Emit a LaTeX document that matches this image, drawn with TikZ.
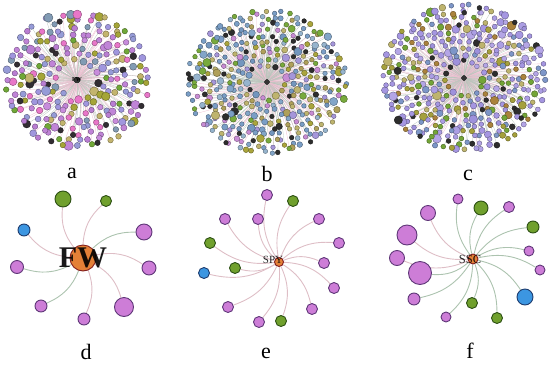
\documentclass[tikz,border=0pt]{standalone}
\usepackage{fontspec}
\setmainfont{Liberation Serif}
\usetikzlibrary{backgrounds}

\definecolor{orch}{RGB}{205,125,215}
\definecolor{orchline}{RGB}{95,55,120}
\definecolor{leaf}{RGB}{112,160,45}
\definecolor{leafline}{RGB}{45,80,20}
\definecolor{sky}{RGB}{60,150,225}
\definecolor{skyline}{RGB}{30,60,110}
\definecolor{hub}{RGB}{228,128,55}
\definecolor{hubline}{RGB}{130,30,30}
\definecolor{pinkedge}{RGB}{222,190,198}
\definecolor{greenedge}{RGB}{172,195,175}
\definecolor{te1}{RGB}{185,198,188}
\definecolor{te2}{RGB}{238,192,210}
% palettes of the three big networks
\definecolor{pa1}{RGB}{192,132,215}
\definecolor{pa2}{RGB}{192,132,215}
\definecolor{pa3}{RGB}{200,140,220}
\definecolor{pa4}{RGB}{185,125,210}
\definecolor{pa5}{RGB}{160,150,222}
\definecolor{pa6}{RGB}{150,155,215}
\definecolor{pa7}{RGB}{165,165,55}
\definecolor{pa8}{RGB}{112,168,55}
\definecolor{pa9}{RGB}{50,45,50}
\definecolor{pa10}{RGB}{232,118,200}
\definecolor{pa11}{RGB}{130,155,180}
\definecolor{pa12}{RGB}{195,180,110}
\definecolor{pb1}{RGB}{122,158,198}
\definecolor{pb2}{RGB}{122,158,198}
\definecolor{pb3}{RGB}{130,165,200}
\definecolor{pb4}{RGB}{115,150,190}
\definecolor{pb5}{RGB}{165,150,218}
\definecolor{pb6}{RGB}{170,165,60}
\definecolor{pb7}{RGB}{190,180,110}
\definecolor{pb8}{RGB}{45,45,45}
\definecolor{pb9}{RGB}{120,170,60}
\definecolor{pb10}{RGB}{200,140,212}
\definecolor{pb11}{RGB}{150,180,205}
\definecolor{pb12}{RGB}{175,160,90}
\definecolor{pc1}{RGB}{165,150,225}
\definecolor{pc2}{RGB}{165,150,225}
\definecolor{pc3}{RGB}{172,158,228}
\definecolor{pc4}{RGB}{158,145,220}
\definecolor{pc5}{RGB}{180,165,230}
\definecolor{pc6}{RGB}{165,160,60}
\definecolor{pc7}{RGB}{190,180,110}
\definecolor{pc8}{RGB}{45,45,45}
\definecolor{pc9}{RGB}{115,165,55}
\definecolor{pc10}{RGB}{125,150,200}
\definecolor{pc11}{RGB}{165,150,225}
\definecolor{pc12}{RGB}{170,130,60}

\begin{document}
\begin{tikzpicture}[x=1pt,y=-1pt,
  dot/.style={circle,inner sep=0pt,line width=0.4pt},
  orchnode/.style={circle,inner sep=0pt,minimum size=#1,draw=orchline,fill=orch,line width=0.9pt},
  leafnode/.style={circle,inner sep=0pt,minimum size=#1,draw=leafline,fill=leaf,line width=0.9pt},
  skynode/.style={circle,inner sep=0pt,minimum size=#1,draw=skyline,fill=sky,line width=0.9pt},
  hubnode/.style={circle,inner sep=0pt,minimum size=#1,draw=hubline,fill=hub,line width=0.9pt},
  darkhub/.style={circle,inner sep=0pt,minimum size=#1,fill=black!80},
  thread/.style={line width=0.3pt},
  pinkline/.style={draw=pinkedge,line width=0.9pt},
  greenline/.style={draw=greenedge,line width=0.9pt},
  panel/.style={font=\fontsize{22}{22}\selectfont,anchor=base,inner sep=0pt}]
\useasboundingbox (0,0) rectangle (550,365);

% ---------- a ----------
\pgfmathsetseed{11}
\node[darkhub=7] (ahub) at (77,80) {};
\foreach \j in {1,...,8}{
  \pgfmathsetmacro\rr{0.3+0.1*(\j-1)}
  \pgfmathtruncatemacro\n{47*\rr}
  \pgfmathsetmacro\off{360*rnd}
  \foreach \i in {1,...,\n}{
    \pgfmathsetmacro\ang{\off+360/\n*\i+4*rand}
    \pgfmathsetmacro\rad{\rr+0.03*rand}
    \pgfmathrandominteger\e{1}{2}
    \coordinate (pa\j-\i) at ({77+70*\rad*cos(\ang)},{80+67*\rad*sin(\ang)});
    \draw[thread,draw=te\e] (ahub) to[bend left=10] (pa\j-\i);
  }
}
\foreach \j in {1,...,8}{
  \pgfmathsetmacro\rr{0.3+0.1*(\j-1)}
  \pgfmathtruncatemacro\n{47*\rr}
  \foreach \i in {1,...,\n}{
    \pgfmathsetmacro\u{rnd}
    \pgfmathsetmacro\sz{5.5+4*\u*\u*\u*\u*\u}
    \pgfmathrandominteger\k{1}{12}
    \node[dot,fill=pa\k,draw=pa\k!60!black,minimum size=\sz] (a\j-\i) at (pa\j-\i) {};
  }
}
\node[font=\fontsize{6}{6}\selectfont\bfseries,inner sep=0pt] (atext) at (ahub) {FW};
\node[panel] (la) at (72,178) {a};

% ---------- b ----------
\node[darkhub=6] (bhub) at (267,82) {};
\foreach \j in {1,...,10}{
  \pgfmathsetmacro\rr{0.25+0.0833*(\j-1)}
  \pgfmathtruncatemacro\n{62*\rr}
  \pgfmathsetmacro\off{360*rnd}
  \foreach \i in {1,...,\n}{
    \pgfmathsetmacro\ang{\off+360/\n*\i+3*rand}
    \pgfmathsetmacro\rad{\rr+0.025*rand}
    \pgfmathrandominteger\e{1}{2}
    \coordinate (pb\j-\i) at ({267+78*\rad*cos(\ang)},{82+70*\rad*sin(\ang)});
    \draw[thread,draw=te\e] (bhub) to[bend left=10] (pb\j-\i);
  }
}
\foreach \j in {1,...,10}{
  \pgfmathsetmacro\rr{0.25+0.0833*(\j-1)}
  \pgfmathtruncatemacro\n{62*\rr}
  \foreach \i in {1,...,\n}{
    \pgfmathsetmacro\u{rnd}
    \pgfmathsetmacro\sz{4.6+4*\u*\u*\u*\u*\u*\u}
    \pgfmathrandominteger\k{1}{12}
    \node[dot,fill=pb\k,draw=pb\k!60!black,minimum size=\sz] (b\j-\i) at (pb\j-\i) {};
  }
}
\node[panel] (lb) at (267,181) {b};

% ---------- c ----------
\node[darkhub=6] (chub) at (464,78) {};
\foreach \j in {1,...,10}{
  \pgfmathsetmacro\rr{0.25+0.0833*(\j-1)}
  \pgfmathtruncatemacro\n{63*\rr}
  \pgfmathsetmacro\off{360*rnd}
  \foreach \i in {1,...,\n}{
    \pgfmathsetmacro\ang{\off+360/\n*\i+3*rand}
    \pgfmathsetmacro\rad{\rr+0.025*rand}
    \pgfmathrandominteger\e{1}{2}
    \coordinate (pc\j-\i) at ({464+80*\rad*cos(\ang)},{78+72*\rad*sin(\ang)});
    \draw[thread,draw=te\e] (chub) to[bend left=10] (pc\j-\i);
  }
}
\foreach \j in {1,...,10}{
  \pgfmathsetmacro\rr{0.25+0.0833*(\j-1)}
  \pgfmathtruncatemacro\n{63*\rr}
  \foreach \i in {1,...,\n}{
    \pgfmathsetmacro\u{rnd}
    \pgfmathsetmacro\sz{4.8+5*\u*\u*\u*\u*\u*\u}
    \pgfmathrandominteger\k{1}{12}
    \node[dot,fill=pc\k,draw=pc\k!60!black,minimum size=\sz] (c\j-\i) at (pc\j-\i) {};
  }
}
\node[panel] (lc) at (468,180) {c};

% ---------- d ----------
\node[hubnode=26] (fw) at (83,258) {};
\node[leafnode=16] (d1) at (63,199) {};
\node[leafnode=11] (d2) at (106,201) {};
\node[skynode=12] (d3) at (24,230) {};
\node[orchnode=16] (d4) at (144,232) {};
\node[orchnode=13] (d5) at (17,267) {};
\node[orchnode=14] (d6) at (149,268) {};
\node[orchnode=12] (d7) at (41,306) {};
\node[orchnode=12] (d8) at (84,319) {};
\node[orchnode=19] (d9) at (124,307) {};
\begin{pgfonlayer}{background}
\foreach \n/\s in {d1/pinkline,d2/pinkline,d3/pinkline,d4/greenline,d5/greenline,
                   d6/pinkline,d7/greenline,d8/pinkline,d9/pinkline}
  \draw[\s] (fw) to[bend left=22] (\n);
\end{pgfonlayer}
\node[font=\fontsize{30}{30}\selectfont\bfseries,opacity=0.9,inner sep=0pt] (fwtext) at (fw) {FW};
\node[panel] (ld) at (86,359) {d};

% ---------- e ----------
\node[hubnode=9] (spy) at (279,262) {};
\node[orchnode=11] (e1) at (267,195) {};
\node[leafnode=11] (e2) at (293,201) {};
\node[orchnode=11] (e3) at (225,219) {};
\node[orchnode=11] (e4) at (258,219) {};
\node[orchnode=11] (e5) at (319,219) {};
\node[leafnode=11] (e6) at (210,243) {};
\node[orchnode=11] (e7) at (339,243) {};
\node[orchnode=11] (e8) at (324,263) {};
\node[leafnode=11] (e9) at (235,268) {};
\node[skynode=11] (e10) at (204,273) {};
\node[orchnode=11] (e11) at (334,288) {};
\node[orchnode=11] (e12) at (228,307) {};
\node[orchnode=11] (e13) at (312,309) {};
\node[orchnode=11] (e14) at (259,322) {};
\node[leafnode=11] (e15) at (281,321) {};
\begin{pgfonlayer}{background}
\foreach \n in {1,...,15}
  \draw[pinkline] (spy) to[bend left=22] (e\n);
\end{pgfonlayer}
\node[font=\fontsize{11}{11}\selectfont,opacity=0.85,inner sep=0pt] (spytext) at (273,260) {SPY};
\node[panel] (le) at (266,358) {e};

% ---------- f ----------
\node[hubnode=10] (ssc) at (473,259) {};
\node[orchnode=10] (f1) at (458,199) {};
\node[leafnode=14] (f2) at (481,208) {};
\node[orchnode=11] (f3) at (509,207) {};
\node[orchnode=15] (f4) at (428,213) {};
\node[leafnode=12] (f5) at (533,227) {};
\node[orchnode=20] (f6) at (407,235) {};
\node[orchnode=10] (f7) at (529,251) {};
\node[orchnode=15] (f8) at (397,258) {};
\node[orchnode=23] (f9) at (420,273) {};
\node[orchnode=10] (f10) at (540,270) {};
\node[orchnode=12] (f11) at (414,299) {};
\node[skynode=16] (f12) at (525,297) {};
\node[leafnode=11] (f13) at (472,303) {};
\node[orchnode=10] (f14) at (446,317) {};
\node[leafnode=11] (f15) at (497,318) {};
\begin{pgfonlayer}{background}
\foreach \n/\s in {f1/greenline,f2/greenline,f3/greenline,f4/pinkline,f5/greenline,
                   f6/pinkline,f7/greenline,f8/pinkline,f9/greenline,f10/greenline,
                   f11/greenline,f12/greenline,f13/greenline,f14/greenline,f15/greenline}
  \draw[\s] (ssc) to[bend left=22] (\n);
\end{pgfonlayer}
\node[font=\fontsize{12.5}{12.5}\selectfont,opacity=0.85,inner sep=0pt] (ssctext) at (470,259) {SSC};
\node[panel] (lf) at (470,358) {f};
\end{tikzpicture}
\end{document}
